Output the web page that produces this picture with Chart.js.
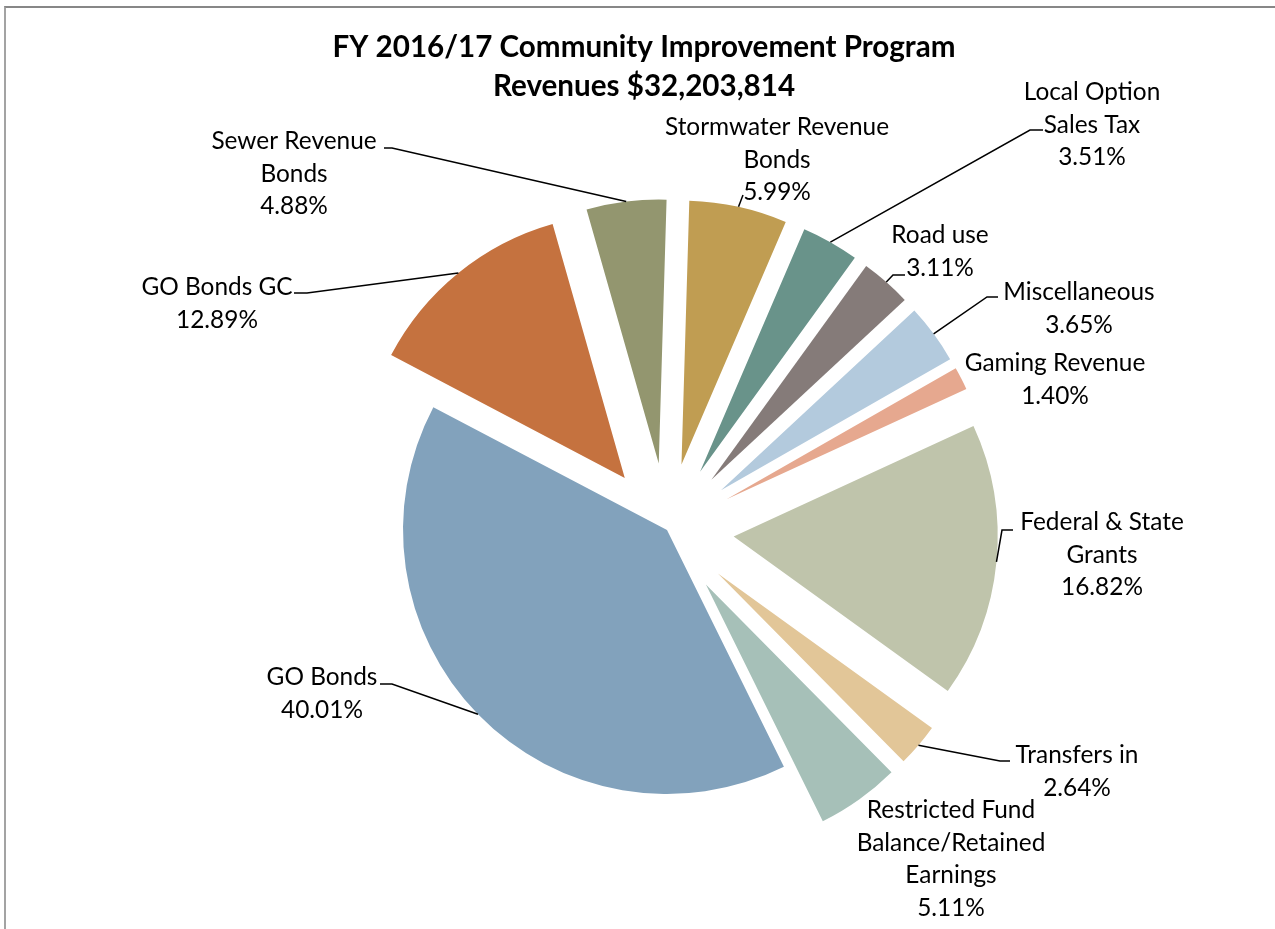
<!DOCTYPE html>
<html>
<head>
<meta charset="utf-8">
<title>FY 2016/17 Community Improvement Program Revenues</title>
<script src="https://cdn.jsdelivr.net/npm/chart.js@4.4.1/dist/chart.umd.min.js"></script>
<style>
    html, body { margin: 0; padding: 0; background: #fff; overflow: hidden; }
    #frame {
        position: absolute;
        left: 4px;
        top: 6px;
        width: 1300px;
        height: 1000px;
        border-left: 2px solid #a3a3a3;
        border-top: 2px solid #878787;
    }
    #chart { position: absolute; left: 0; top: 0; }
</style>
</head>
<body>
<div id="frame"></div>
<canvas id="chart" width="1275" height="929"></canvas>
<script>
// Revenue sources, clockwise from 12 o'clock
const categories = [
    'Stormwater Revenue Bonds',
    'Local Option Sales Tax',
    'Road use',
    'Miscellaneous',
    'Gaming Revenue',
    'Federal & State Grants',
    'Transfers in',
    'Restricted Fund Balance/Retained Earnings',
    'GO Bonds',
    'GO Bonds GC',
    'Sewer Revenue Bonds'
];

// Share of total revenue, percent
const shares = [5.99, 3.51, 3.11, 3.65, 1.40, 16.82, 2.64, 5.11, 40.01, 12.89, 4.88];

const sliceColors = [
    '#C09D52', '#69938A', '#857B79', '#B3CADD', '#E6A88F', '#BFC4AB',
    '#E2C698', '#A6C0B8', '#82A2BC', '#C5723F', '#93966F'
];

// How far each slice is pulled out from the centre (px); GO Bonds stays put
const explodeBy = [67, 67, 67, 67, 67, 67, 67, 67, 0, 67, 67];

// Wrapped category text for the data labels (percent line is added below)
const labelLines = [
    ['Stormwater Revenue', 'Bonds'],
    ['Local Option', 'Sales Tax'],
    ['Road use'],
    ['Miscellaneous'],
    ['Gaming Revenue'],
    ['Federal & State', 'Grants'],
    ['Transfers in'],
    ['Restricted Fund', 'Balance/Retained', 'Earnings'],
    ['GO Bonds'],
    ['GO Bonds GC'],
    ['Sewer Revenue', 'Bonds']
];

const titleLines = ['FY 2016/17 Community Improvement Program', 'Revenues $32,203,814'];

// Label placement: centre x and middle of the first line
const labelAnchors = [
    [777, 127], [1092, 92], [940, 235], [1079, 292], [1055, 363], [1102, 522],
    [1077, 755], [951, 810], [322, 677], [217, 287], [294, 141]
];

// Leader line points after the slice edge (null = no leader)
const leaderPaths = [
    [[743, 195]],
    [[1030, 130], [1043, 130]],
    [[893, 275], [905, 275]],
    [[987, 297], [998, 297]],
    null,
    [[1002, 530], [1013, 530]],
    [[1000, 761], [1010, 761]],
    null,
    [[392, 684], [380, 684]],
    [[307, 293], [294, 293]],
    [[392, 148], [384, 148]]
];

const LABEL_FONT = '24.4px Lato, "Open Sans", sans-serif';
const TITLE_FONT = 'bold 29.6px Lato, "Open Sans", sans-serif';
const LINE_HEIGHT = 32.7;

// Arc that can be pulled straight out along its bisector without changing radius
class ExplodedArc extends Chart.ArcElement {
    static id = 'explodedArc';
    static defaults = { explode: 0 };

    draw(ctx) {
        const mid = (this.startAngle + this.endAngle) / 2;
        const d = this.options.explode || 0;
        ctx.save();
        ctx.translate(Math.cos(mid) * d, Math.sin(mid) * d);
        super.draw(ctx);
        ctx.restore();
    }
}

class ExplodedPieController extends Chart.PieController {
    static id = 'explodedPie';
    static defaults = { dataElementType: 'explodedArc' };
}

Chart.register(ExplodedArc, ExplodedPieController);

// Title, data labels and leader lines
const sliceLabels = {
    id: 'sliceLabels',
    afterDatasetsDraw(chart) {
        const ctx = chart.ctx;
        const meta = chart.getDatasetMeta(0);

        ctx.save();
        ctx.fillStyle = '#000';
        ctx.textAlign = 'center';
        ctx.textBaseline = 'middle';

        ctx.font = TITLE_FONT;
        titleLines.forEach((t, k) => ctx.fillText(t, 644, 47 + k * 39));

        ctx.font = LABEL_FONT;
        ctx.strokeStyle = '#000';
        ctx.lineWidth = 1.5;

        meta.data.forEach((arc, i) => {
            const [ax, ay] = labelAnchors[i];
            const lines = [...labelLines[i], shares[i].toFixed(2) + '%'];
            lines.forEach((t, k) => ctx.fillText(t, ax, ay + k * LINE_HEIGHT));

            const path = leaderPaths[i];
            if (!path) return;
            const mid = (arc.startAngle + arc.endAngle) / 2;
            const reach = (arc.options.explode || 0) + arc.outerRadius;
            ctx.beginPath();
            ctx.moveTo(arc.x + Math.cos(mid) * reach, arc.y + Math.sin(mid) * reach);
            path.forEach(p => ctx.lineTo(p[0], p[1]));
            ctx.stroke();
        });

        ctx.restore();
    }
};

new Chart(document.getElementById('chart'), {
    type: 'explodedPie',
    data: {
        labels: categories,
        datasets: [{
            data: shares,
            backgroundColor: sliceColors,
            explode: explodeBy,
            borderWidth: 0
        }]
    },
    options: {
        responsive: false,
        animation: false,
        events: [],
        rotation: 1.7,
        radius: 264,
        layout: { padding: { left: 59, right: 0, top: 131, bottom: 0 } },
        plugins: {
            legend: { display: false },
            tooltip: { enabled: false }
        }
    },
    plugins: [sliceLabels]
});
</script>
</body>
</html>
